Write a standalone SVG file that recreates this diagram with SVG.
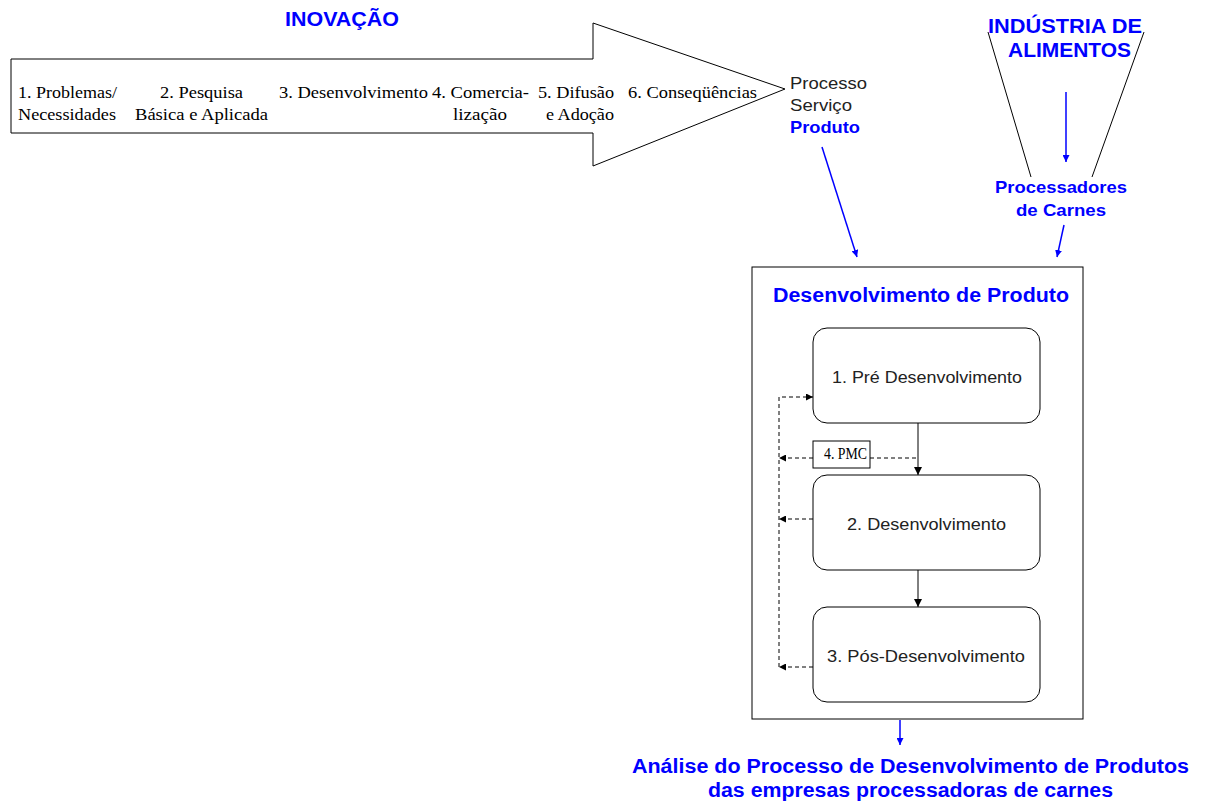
<svg xmlns="http://www.w3.org/2000/svg" width="1208" height="802" viewBox="0 0 1208 802">
<style>
.t{font-family:"Liberation Serif",serif;font-size:16px;fill:#000}
.b{font-family:"Liberation Sans",Arial,sans-serif;font-weight:bold;fill:#0000ff}
.s{font-family:"Liberation Sans",Arial,sans-serif;font-size:17px;fill:#222}
.ln{fill:none;stroke:#000;stroke-width:1}
.bl{fill:none;stroke:#0000ff;stroke-width:1.5}
.dash{fill:none;stroke:#000;stroke-width:1;stroke-dasharray:4,3}
.node{fill:#fff;stroke:#000;stroke-width:1}
</style>
<defs>
<marker id="ab" viewBox="0 0 10 10" refX="10" refY="5" markerWidth="7" markerHeight="7" orient="auto" markerUnits="userSpaceOnUse"><path d="M0,0 L10,5 L0,10 z" fill="#0000ff"/></marker>
<marker id="ak" viewBox="0 0 10 10" refX="10" refY="5" markerWidth="8" markerHeight="8" orient="auto" markerUnits="userSpaceOnUse"><path d="M0,0 L10,5 L0,10 z" fill="#000"/></marker>
<marker id="ad" viewBox="0 0 10 10" refX="10" refY="5" markerWidth="7" markerHeight="7" orient="auto" markerUnits="userSpaceOnUse"><path d="M0,0 L10,5 L0,10 z" fill="#000"/></marker>
</defs>
<rect width="1208" height="802" fill="#fff"/>

<g id="inovacao">
<text class="b" x="285" y="26" font-size="20" textLength="114" lengthAdjust="spacingAndGlyphs">INOVAÇÃO</text>
<polygon class="node" points="11,59 593,59 593,23 785,89 593,166 593,133 11,133"/>
<text class="t" x="18" y="98" textLength="99" lengthAdjust="spacingAndGlyphs">1. Problemas/</text>
<text class="t" x="18" y="120" textLength="98" lengthAdjust="spacingAndGlyphs">Necessidades</text>
<text class="t" x="160" y="98" textLength="83" lengthAdjust="spacingAndGlyphs">2. Pesquisa</text>
<text class="t" x="135" y="120" textLength="133" lengthAdjust="spacingAndGlyphs">Básica e Aplicada</text>
<text class="t" x="279" y="98" textLength="149" lengthAdjust="spacingAndGlyphs">3. Desenvolvimento</text>
<text class="t" x="432" y="98" textLength="97" lengthAdjust="spacingAndGlyphs">4. Comercia-</text>
<text class="t" x="453" y="120" textLength="54" lengthAdjust="spacingAndGlyphs">lização</text>
<text class="t" x="538" y="98" textLength="76" lengthAdjust="spacingAndGlyphs">5. Difusão</text>
<text class="t" x="546" y="120" textLength="68" lengthAdjust="spacingAndGlyphs">e Adoção</text>
<text class="t" x="628" y="98" textLength="129" lengthAdjust="spacingAndGlyphs">6. Conseqüências</text>
</g>

<g id="resultado">
<text class="s" x="790" y="89" textLength="77" lengthAdjust="spacingAndGlyphs">Processo</text>
<text class="s" x="790" y="111" textLength="62" lengthAdjust="spacingAndGlyphs">Serviço</text>
<text class="b" x="790" y="133" font-size="17" textLength="70" lengthAdjust="spacingAndGlyphs">Produto</text>
</g>

<g id="industria">
<text class="b" x="988" y="33" font-size="21" textLength="154" lengthAdjust="spacingAndGlyphs">INDÚSTRIA DE</text>
<text class="b" x="1008" y="57" font-size="21" textLength="123" lengthAdjust="spacingAndGlyphs">ALIMENTOS</text>
<line class="ln" x1="988" y1="32" x2="1031" y2="177"/>
<line class="ln" x1="1144" y1="32" x2="1092" y2="177"/>
</g>

<g id="processadores">
<text class="b" x="995" y="193" font-size="17" textLength="132" lengthAdjust="spacingAndGlyphs">Processadores</text>
<text class="b" x="1016" y="216" font-size="17" textLength="90" lengthAdjust="spacingAndGlyphs">de Carnes</text>
</g>

<g id="desenvolvimento-produto">
<rect class="node" x="752" y="267" width="331" height="452"/>
<text class="b" x="773" y="302" font-size="20" textLength="296" lengthAdjust="spacingAndGlyphs">Desenvolvimento de Produto</text>
</g>

<g id="pre-desenvolvimento">
<rect class="node" x="813" y="328" width="227" height="95" rx="14"/>
<text class="s" x="832" y="383" textLength="190" lengthAdjust="spacingAndGlyphs">1. Pré Desenvolvimento</text>
</g>

<g id="desenvolvimento">
<rect class="node" x="813" y="475" width="227" height="95" rx="14"/>
<text class="s" x="847" y="530" textLength="159" lengthAdjust="spacingAndGlyphs">2. Desenvolvimento</text>
</g>

<g id="pos-desenvolvimento">
<rect class="node" x="813" y="607" width="227" height="95" rx="14"/>
<text class="s" x="827" y="662" textLength="198" lengthAdjust="spacingAndGlyphs">3. Pós-Desenvolvimento</text>
</g>

<g id="pmc">
<rect class="node" x="813" y="441" width="57" height="27"/>
<text class="t" x="824" y="459" font-size="12" textLength="43" lengthAdjust="spacingAndGlyphs">4. PMC</text>
</g>

<g id="analise">
<text class="b" x="632" y="773" font-size="20" textLength="557" lengthAdjust="spacingAndGlyphs">Análise do Processo de Desenvolvimento de Produtos</text>
<text class="b" x="708" y="797" font-size="20" textLength="405" lengthAdjust="spacingAndGlyphs">das empresas processadoras de carnes</text>
</g>

<g id="connectors">
<line class="bl" x1="822" y1="147" x2="857" y2="257" marker-end="url(#ab)"/>
<line class="bl" x1="1066" y1="92" x2="1066" y2="162" marker-end="url(#ab)"/>
<line class="bl" x1="1064" y1="225" x2="1057" y2="257" marker-end="url(#ab)"/>
<line class="bl" x1="900" y1="720" x2="900" y2="745" marker-end="url(#ab)"/>
<line class="ln" x1="918" y1="423" x2="918" y2="475" marker-end="url(#ak)"/>
<line class="ln" x1="918" y1="570" x2="918" y2="607" marker-end="url(#ak)"/>
<line class="dash" x1="870" y1="458" x2="918" y2="458"/>
<line class="dash" x1="813" y1="458" x2="779" y2="458" marker-end="url(#ad)"/>
<line class="dash" x1="813" y1="519" x2="779" y2="519" marker-end="url(#ad)"/>
<line class="dash" x1="813" y1="667" x2="779" y2="667" marker-end="url(#ad)"/>
<polyline class="dash" points="779,667 779,397 813,397" marker-end="url(#ad)"/>
</g>
</svg>
